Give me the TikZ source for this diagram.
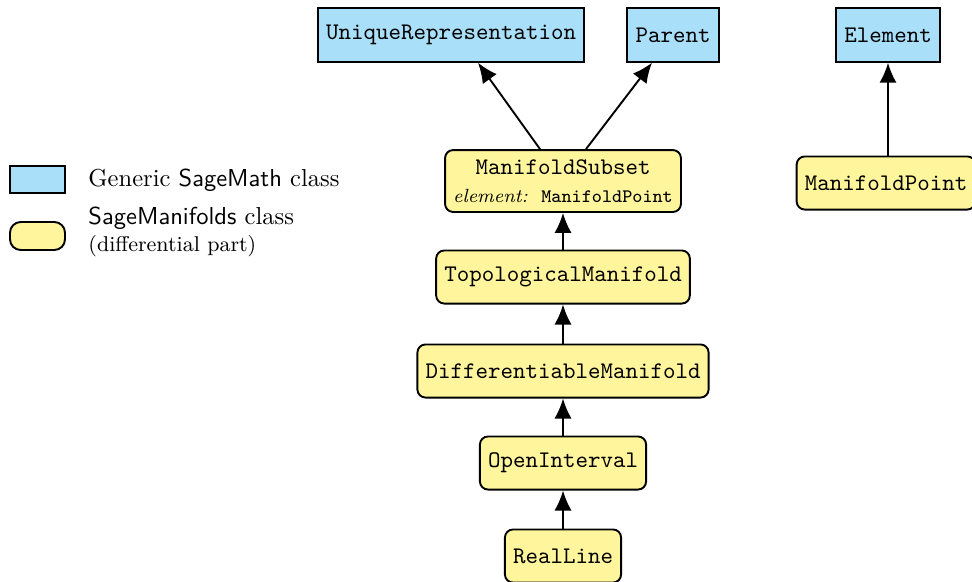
\documentclass[tikz,border=0pt]{standalone}
\usepackage{xcolor}
\usepackage{tikz}
\usetikzlibrary{arrows.meta, positioning, calc}
\definecolor{sageblue}{HTML}{A9DFF8}
\definecolor{manifyellow}{HTML}{FFF59C}

\tikzset{
    genclass/.style={draw=black, line width=0.8pt, fill=sageblue, font=\ttfamily,
        minimum height=22.5pt, inner xsep=3.4pt},
    manclass/.style={draw=black, line width=0.8pt, fill=manifyellow, font=\ttfamily,
        rounded corners=3.4pt, minimum height=22.3pt, inner xsep=3.4pt},
    inherit/.style={line width=0.8pt, -{Latex[length=8.4pt,width=7.2pt]}},
    legendtext/.style={anchor=west, align=left, inner sep=0pt}
}

\begin{document}
\begin{tikzpicture}[x=0.42pt, y=-0.42pt]
    \useasboundingbox (0,0) rectangle (972,581);
    % Generic SageMath classes (top row)
    \node[genclass] (unique) at (451,35) {UniqueRepresentation};
    \node[genclass] (parent) at (673,35) {Parent};
    \node[genclass] (element) at (888,35) {Element};
    % SageManifolds classes
    \node[manclass, align=center, minimum height=26pt, inner ysep=2pt] (subset) at (563,181)
        {ManifoldSubset\\[0pt]{\footnotesize\textit{\rmfamily element:} ManifoldPoint}};
    \node[manclass] (point) at (886,183) {ManifoldPoint};
    \node[manclass] (topman) at (563,277) {TopologicalManifold};
    \node[manclass] (diffman) at (563,371) {DifferentiableManifold};
    \node[manclass] (interval) at (563,463) {OpenInterval};
    \node[manclass] (realline) at (563,556) {RealLine};
    % Inheritance arrows
    \draw[inherit] ($(subset.north)+(-23,0)$) -- ($(unique.south)+(27,0)$);
    \draw[inherit] ($(subset.north)+(23,0)$) -- ($(parent.south)+(-21,0)$);
    \draw[inherit] (point.north -| element.south) -- (element.south);
    \draw[inherit] (topman) -- (subset);
    \draw[inherit] (diffman) -- (topman);
    \draw[inherit] (interval) -- (diffman);
    \draw[inherit] (realline) -- (interval);
    % Legend
    \node[genclass, minimum width=55*0.42pt, minimum height=27*0.42pt] (keygen) at (37.5,179.5) {};
    \node[manclass, minimum width=55*0.42pt, minimum height=28*0.42pt, rounded corners=4.5pt] (keyman) at (37.5,236) {};
    \node[legendtext, font=\fontsize{10.3}{12.4}\selectfont] (keygentext) at (88,180) {Generic \textsf{SageMath} class};
    \node[legendtext, font=\fontsize{10.3}{12.4}\selectfont] (keymantext) at (88,232) {\textsf{SageManifolds} class\\[-1pt]{\small (differential part)}};
\end{tikzpicture}
\end{document}
